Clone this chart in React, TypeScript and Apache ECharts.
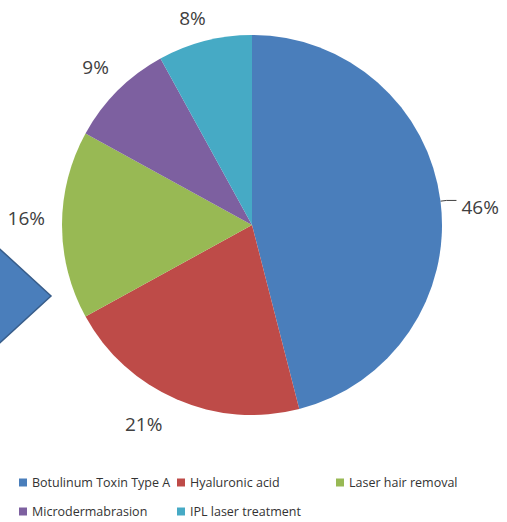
import React, { useEffect, useRef } from "react";
import * as echarts from "echarts";

const categories = [
  "Botulinum Toxin Type A",
  "Hyaluronic acid",
  "Laser hair removal",
  "Microdermabrasion",
  "IPL laser treatment",
];
const values = [46, 21, 16, 9, 8];
const colors = ["#4A7EBB", "#BE4B48", "#98B954", "#7D60A0", "#46AAC5"];
const labelLengths = [6, 28, 16, 18, 20];
const labelShift = [
  [0, 7],
  [2, -1],
  [4, -7],
  [9, -11],
  [11, -4],
];

export default function App() {
  const ref = useRef<HTMLDivElement>(null);
  useEffect(() => {
    document.body.style.margin = "0";
    const chart = echarts.init(ref.current!, undefined, { renderer: "svg" });
    const legendText = { fontFamily: "Open Sans", fontSize: 12.5, color: "#333333" };
    const legendCommon = {
      orient: "vertical" as const,
      top: 476,
      itemWidth: 8,
      itemHeight: 8,
      itemGap: 16,
      icon: "rect",
      textStyle: legendText,
      selectedMode: false,
      padding: 0,
    };
    chart.setOption({
      animation: false,
      color: colors,
      legend: [
        { ...legendCommon, left: 19, data: [categories[0], categories[3]] },
        { ...legendCommon, left: 177, data: [categories[1], categories[4]] },
        { ...legendCommon, left: 336, data: [categories[2]] },
      ],
      graphic: [
        {
          type: "polygon",
          shape: { points: [[-10, 240], [51, 296], [-10, 352]] },
          style: { fill: "#4A7EBB", stroke: "#385D8A", lineWidth: 1.5 },
        },
      ],
      series: [
        {
          type: "pie",
          center: [252, 225],
          radius: 190,
          startAngle: 90,
          clockwise: true,
          data: categories.map((name, i) => ({
            name,
            value: values[i],
            labelLine:
              i === 0
                ? { show: true, length: labelLengths[i], length2: 10, lineStyle: { color: "#404040", width: 1 } }
                : { show: false, length: labelLengths[i], length2: 0 },
          })),
          label: {
            show: true,
            position: "outside",
            formatter: "{d}%",
            fontFamily: "Open Sans",
            fontSize: 19,
            color: "#404040",
            overflow: "none",
          },
          labelLayout: (p: any) => ({
            dx: labelShift[p.dataIndex][0],
            dy: labelShift[p.dataIndex][1],
          }),
          emphasis: { disabled: true },
        },
      ],
    });
    return () => chart.dispose();
  }, []);
  return <div ref={ref} style={{ width: 507, height: 522 }} />;
}
